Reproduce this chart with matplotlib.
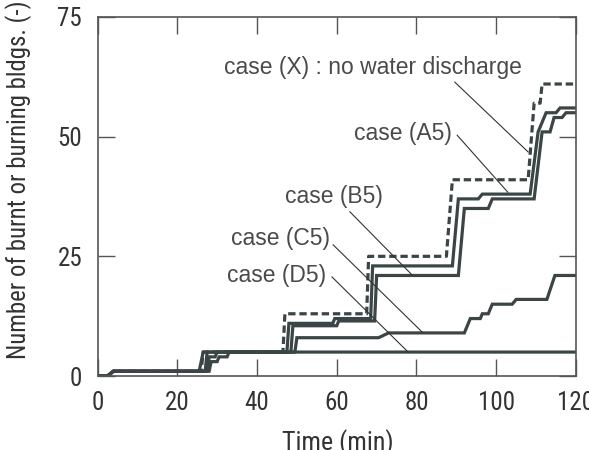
import numpy as np
import matplotlib
matplotlib.use("Agg")
import matplotlib.pyplot as plt

# time (min) / number of burnt or burning buildings
x_t = [0, 2.5, 4, 26, 26.5, 46.5, 47, 67.5, 68, 87.5, 89, 108, 109.5, 111, 111.5, 120]
x_v = [0, 0, 1, 1, 5, 5, 13, 13, 25, 25, 41, 41, 57, 57, 61, 61]

a5_t = [0, 2.5, 4, 27, 27.5, 47.5, 48, 59, 59.5, 68.5, 69, 89, 90.5, 95.5, 96.5, 108.5, 110.5, 111.5, 112.5, 115, 116, 120]
a5_v = [0, 0, 1, 1, 5, 5, 11, 11, 12, 12, 23, 23, 37, 37, 38, 38, 51, 53, 55, 55, 56, 56]

b5_t = [0, 2.5, 4, 27.5, 28, 29.5, 30, 48.5, 49, 60, 60.5, 69.5, 70, 90.5, 92, 98, 99, 109.5, 111.5, 113.5, 114.5, 116.5, 117.5, 120]
b5_v = [0, 0, 1, 1, 4, 4, 5, 5, 10.5, 10.5, 11.5, 11.5, 21, 21, 35, 35, 37, 37, 51, 51, 54, 54, 55, 55]

c5_t = [0, 2.5, 4, 28, 28.5, 30, 30.5, 32.5, 33, 49.5, 50, 70.5, 73, 92, 93.5, 96, 96.5, 98, 99, 104, 105, 112.7, 114.7, 120]
c5_v = [0, 0, 1, 1, 3, 3, 4, 4, 5, 5, 8, 8, 9, 9, 12, 12, 13, 13, 15, 15, 16, 16, 21, 21]

d5_t = [0, 2.5, 4, 25.5, 26.5, 120]
d5_v = [0, 0, 1, 1, 5, 5]

labels = ["case (X) : no water discharge", "case (A5)", "case (B5)", "case (C5)", "case (D5)"]
label_pos = [(69.2, 64.5), (76.7, 50.6), (59.2, 37.6), (45.8, 28.8), (44.8, 21.1)]
leaders = [((89.6, 61.4), (108.0, 46.8)),
           ((90.2, 50.3), (102.9, 38.4)),
           ((63.3, 34.3), (78.9, 21.1)),
           ((59.1, 27.4), (81.4, 9.2)),
           ((58.8, 20.7), (77.9, 5.0))]

line_col = "#3b4545"
text_col = "#4a4a4a"
narrow = ["Roboto Condensed", "Liberation Sans Narrow", "Liberation Sans"]

fig = plt.figure(figsize=(5.89, 4.5), dpi=100)
ax = fig.add_axes([97.5 / 589, 1 - 376 / 450, 478.5 / 589, 359 / 450])

lw = 2.3
ax.plot(d5_t, d5_v, color=line_col, lw=lw, solid_joinstyle="miter")
ax.plot(c5_t, c5_v, color=line_col, lw=lw, solid_joinstyle="miter")
ax.plot(b5_t, b5_v, color=line_col, lw=lw, solid_joinstyle="miter")
ax.plot(a5_t, a5_v, color=line_col, lw=lw, solid_joinstyle="miter")
ax.plot(x_t, x_v, color=line_col, lw=lw, dashes=(2.3, 1.2))

for (x0, y0), (x1, y1) in leaders:
    ax.plot([x0, x1], [y0, y1], color="#333333", lw=0.8)
for txt, (tx, ty) in zip(labels, label_pos):
    ax.text(tx, ty, txt, ha="center", va="center", fontsize=16.5,
            family=["Liberation Sans", "DejaVu Sans"], color=text_col)

ax.set_xlim(0, 120)
ax.set_ylim(0, 75)
ax.set_xticks([0, 20, 40, 60, 80, 100, 120])
ax.set_yticks([0, 25, 50, 75])
ax.tick_params(direction="in", length=12, width=1, color="#555555",
               top=True, right=True, labelsize=18, labelcolor="#333333")
ax.tick_params(axis="x", pad=11)
ax.tick_params(axis="y", pad=11)
for lab in ax.get_xticklabels() + ax.get_yticklabels():
    lab.set_family(narrow)
for sp in ax.spines.values():
    sp.set_color("#555555")
    sp.set_linewidth(1.2)

fig.text(338 / 589, 1 - 429 / 450, "Time (min)", ha="center", va="top",
         fontsize=18.7, family=narrow, color="#333333")
fig.text(18.5 / 589, 1 - 180 / 450, "Number of burnt or burning bldgs. (-)",
         rotation=90, ha="center", va="center", fontsize=17.8, family=narrow,
         color="#333333")

fig.savefig("out.png", dpi=100)
